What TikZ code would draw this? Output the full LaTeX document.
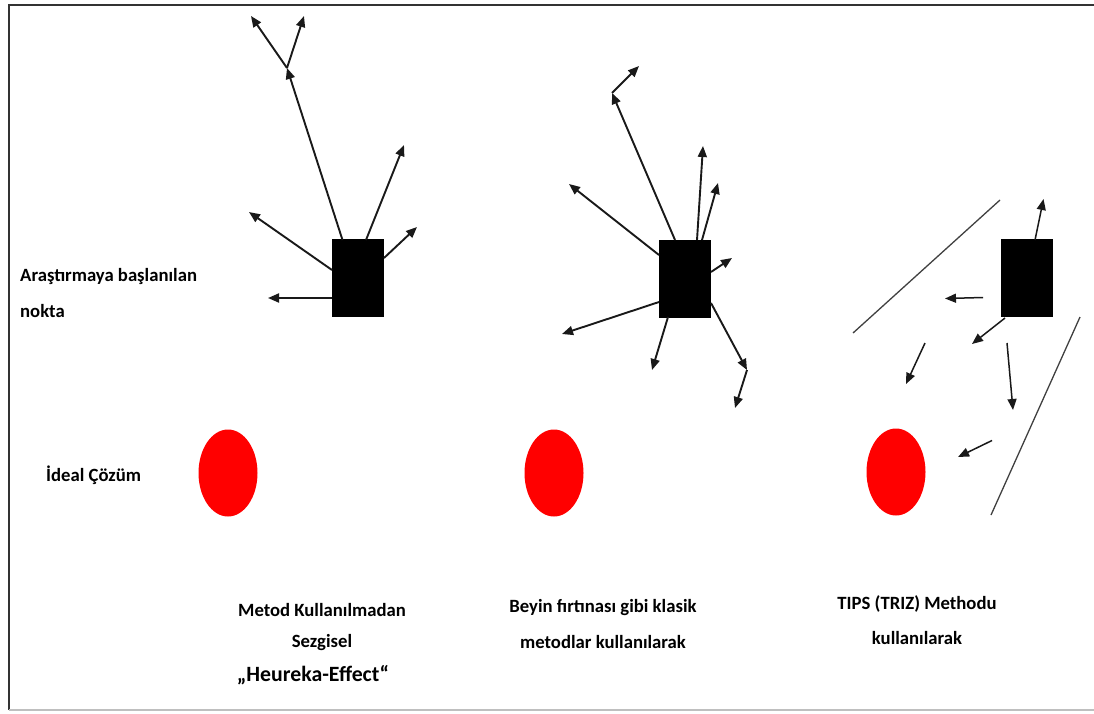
\documentclass[tikz,border=0pt]{standalone}
\usepackage{fontspec}
\setmainfont{Carlito}
\usetikzlibrary{arrows.meta,shapes.geometric}
\begin{document}
\begin{tikzpicture}[x=1pt,y=-1pt,
  startbox/.style={fill=black,draw=none,minimum width=52pt,minimum height=78pt,inner sep=0pt},
  ideal/.style={ellipse,fill=red,draw=none,minimum width=59pt,minimum height=87pt,inner sep=0pt},
  ray/.style={draw=black!90,line width=1.9pt,-{Triangle[length=11pt,width=9pt]}},
  thinray/.style={draw=black!90,line width=1.5pt,-{Triangle[length=11pt,width=9pt]}},
  wall/.style={draw=black!75,line width=1.3pt},
  lbl/.style={font=\bfseries\fontsize{18.7}{36}\selectfont,inner sep=0pt,align=center}]
\useasboundingbox (0,0) rectangle (1094,713);
% frame
\draw[black!80,line width=2pt] (9,710) -- (9,5) -- (1094,5);
\draw[black!25,line width=1.5pt] (9,710) -- (1094,710);

% boxes and ideal solutions
\node[startbox] (b1) at (358,278) {};
\node[startbox] (b2) at (685,278.5) {};
\node[startbox] (b3) at (1026.5,278) {};
\node[ideal] (e1) at (228,473) {};
\node[ideal] (e2) at (554,473) {};
\node[ideal] (e3) at (896,472) {};

% cluster 1
\coordinate (a1s) at (342.5,240);
\coordinate (a1t) at (287,68);
\coordinate (a1u) at (251,16);
\coordinate (a1v) at (304,16);
\coordinate (a2s) at (366,240);
\coordinate (a2t) at (404,145);
\coordinate (a3s) at (332,270);
\coordinate (a3t) at (249,212);
\coordinate (a4s) at (384,258);
\coordinate (a4t) at (417,227);
\coordinate (a5s) at (332,298);
\coordinate (a5t) at (268,298);
\draw[ray] (a1s) -- (a1t);
\draw[ray] (a1t) -- (a1u);
\draw[ray] (a1t) -- (a1v);
\draw[ray] (a2s) -- (a2t);
\draw[ray] (a3s) -- (a3t);
\draw[ray] (a4s) -- (a4t);
\draw[ray] (a5s) -- (a5t);

% cluster 2
\coordinate (c1s) at (675,240);
\coordinate (c1t) at (612,93);
\coordinate (c1u) at (639,66);
\coordinate (c2s) at (697,240);
\coordinate (c2t) at (703,146);
\coordinate (c3s) at (702,240);
\coordinate (c3t) at (718,183);
\coordinate (c4s) at (659,255);
\coordinate (c4t) at (569,184);
\coordinate (c5s) at (711,272);
\coordinate (c5t) at (732,258);
\coordinate (c6s) at (659,302);
\coordinate (c6t) at (562,334);
\coordinate (c7s) at (668,317);
\coordinate (c7t) at (652,370);
\coordinate (c8s) at (711,303);
\coordinate (c8t) at (747,370);
\coordinate (c8u) at (735,408);
\draw[ray] (c1s) -- (c1t);
\draw[ray] (c1t) -- (c1u);
\draw[ray] (c2s) -- (c2t);
\draw[ray] (c3s) -- (c3t);
\draw[ray] (c4s) -- (c4t);
\draw[ray] (c5s) -- (c5t);
\draw[ray] (c6s) -- (c6t);
\draw[ray] (c7s) -- (c7t);
\draw[ray] (c8s) -- (c8t);
\draw[ray] (c8t) -- (c8u);

% cluster 3
\coordinate (d1s) at (1035,240);
\coordinate (d1t) at (1043.5,199);
\coordinate (d2s) at (983,297.5);
\coordinate (d2t) at (945,298.5);
\coordinate (d3s) at (1005,318);
\coordinate (d3t) at (972,344);
\coordinate (d4s) at (925,343);
\coordinate (d4t) at (906,384);
\coordinate (d5s) at (1007,343);
\coordinate (d5t) at (1013,410);
\coordinate (d6s) at (992,440.5);
\coordinate (d6t) at (958,457);
\draw[thinray] (d1s) -- (d1t);
\draw[thinray] (d2s) -- (d2t);
\draw[thinray] (d3s) -- (d3t);
\draw[thinray] (d4s) -- (d4t);
\draw[thinray] (d5s) -- (d5t);
\draw[thinray] (d6s) -- (d6t);
\coordinate (w1a) at (853,333);
\coordinate (w1b) at (1000,200);
\coordinate (w2a) at (991,515);
\coordinate (w2b) at (1080,317);
\draw[wall] (w1a) -- (w1b);
\draw[wall] (w2a) -- (w2b);

% labels
\node[lbl,anchor=west,align=left] (t1) at (20,293) {Araştırmaya başlanılan\\nokta};
\node[lbl,anchor=west] (t2) at (46,475) {İdeal Çözüm};
\node[lbl,font=\bfseries\fontsize{18.7}{31.5}\selectfont] (t3) at (322,627) {Metod Kullanılmadan\\Sezgisel};
\node[lbl,font=\bfseries\fontsize{21.8}{24}\selectfont] (t4) at (313,675) {„Heureka-Effect“};
\node[lbl] (t5) at (603,623.5) {Beyin fırtınası gibi klasik\\metodlar kullanılarak};
\node[lbl,font=\bfseries\fontsize{18.7}{35}\selectfont] (t6) at (917,620.5) {TIPS (TRIZ) Methodu\\kullanılarak};
\end{tikzpicture}
\end{document}
